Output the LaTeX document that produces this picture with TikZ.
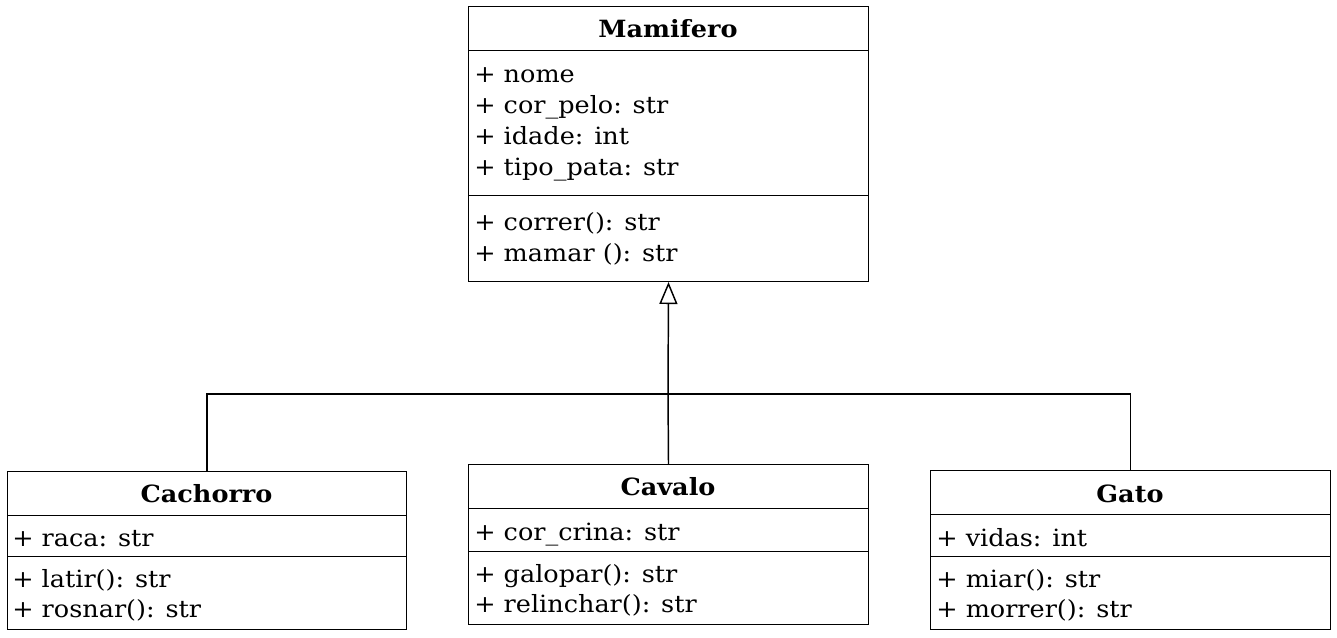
\documentclass[tikz,border=0pt]{standalone}
\usepackage{fontspec}
\setmainfont{DejaVu Serif}[FakeStretch=1.075]
\usetikzlibrary{arrows.meta}
\begin{document}
\begin{tikzpicture}[x=0.75pt,y=-0.75pt,
 cls/.style={draw, line width=0.75pt, inner sep=0, anchor=north west},
 txt/.style={anchor=base west, inner sep=0, font=\fontsize{17.8pt}{23pt}\selectfont},
 ttl/.style={anchor=base, inner sep=0, font=\fontsize{17.8pt}{23pt}\selectfont\bfseries},
 sep/.style={line width=0.75pt},
 link/.style={line width=1.1pt},
 inh/.style={line width=1.1pt, -{Triangle[open,length=16.5pt,width=13.5pt]}}]
\useasboundingbox (0,0) rectangle (1337,637);
% Mamifero
\node[cls, minimum width=300pt, minimum height=206.25pt] (mam) at (468,6) {};
\draw[sep] (468,50) -- (868,50);
\draw[sep] (468,195) -- (868,195);
\node[ttl] (mamt) at (668,37) {Mamifero};
\node[txt] (m1) at (474,82) {+ nome};
\node[txt] (m2) at (474,113) {+ cor\_pelo: str};
\node[txt] (m3) at (474,144) {+ idade: int};
\node[txt] (m4) at (474,175) {+ tipo\_pata: str};
\node[txt] (m5) at (474,230) {+ correr(): str};
\node[txt] (m6) at (474,261) {+ mamar (): str};
% Cachorro
\node[cls, minimum width=299.25pt, minimum height=118.5pt] (cach) at (7,471) {};
\draw[sep] (7,515) -- (406,515);
\draw[sep] (7,556) -- (406,556);
\node[ttl] (cacht) at (206.5,502) {Cachorro};
\node[txt] (c1) at (12,546) {+ raca: str};
\node[txt] (c2) at (12,587) {+ latir(): str};
\node[txt] (c3) at (12,617) {+ rosnar(): str};
% Cavalo
\node[cls, minimum width=300pt, minimum height=120pt] (cav) at (468,464) {};
\draw[sep] (468,508) -- (868,508);
\draw[sep] (468,551) -- (868,551);
\node[ttl] (cavt) at (668,495) {Cavalo};
\node[txt] (v1) at (474,540) {+ cor\_crina: str};
\node[txt] (v2) at (474,582) {+ galopar(): str};
\node[txt] (v3) at (474,612) {+ relinchar(): str};
% Gato
\node[cls, minimum width=300pt, minimum height=119.25pt] (gato) at (930,470) {};
\draw[sep] (930,514) -- (1330,514);
\draw[sep] (930,556) -- (1330,556);
\node[ttl] (gatot) at (1130,502) {Gato};
\node[txt] (g1) at (936,546) {+ vidas: int};
\node[txt] (g2) at (936,587) {+ miar(): str};
\node[txt] (g3) at (936,617) {+ morrer(): str};
% connectors
\coordinate (j) at (668,394);
\draw[inh] (cav.north) -- (j) -- (mam.south);
\draw[link] (cach.north) |- (j);
\draw[link] (gato.north) |- (j);
\end{tikzpicture}
\end{document}
